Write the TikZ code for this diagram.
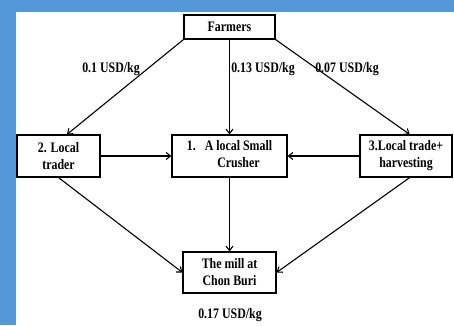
\documentclass[tikz,border=0pt]{standalone}
\usepackage{fontspec}
\setmainfont{Liberation Serif}[FakeStretch=0.82]
\usetikzlibrary{arrows.meta,calc}
\definecolor{bgblue}{RGB}{84,152,218}
\tikzset{
  box/.style={draw=black,line width=1.1pt,fill=white,inner sep=0pt,align=center,
    font=\fontsize{14.5}{17}\selectfont\bfseries},
  lbl/.style={inner sep=0pt,font=\fontsize{14.5}{17}\selectfont\bfseries},
  conn/.style={draw=black,line width=1.1pt,-{Straight Barb[length=4.5pt,width=7pt,line width=1.1pt]}}
}
\begin{document}
\begin{tikzpicture}[x=1pt,y=-1pt]
\useasboundingbox (0,0) rectangle (454,325);
\fill[bgblue] (0,0) rectangle (454,325);
\fill[white] (16,12) rectangle (454,325);
\node[box,minimum width=91pt,minimum height=24pt] (farmers) at (229.5,27) {Farmers};
\node[box,minimum width=83pt,minimum height=42pt] (trader) at (58.5,156) {2. Local\\trader};
\node[box,minimum width=115pt,minimum height=42pt] (crusher) at (229.5,156)
  {\begin{tabular}{@{}l@{\hspace{9pt}}c@{}}1.&A local Small\\&Crusher\end{tabular}};
\node[box,minimum width=92pt,minimum height=42pt] (harv) at (406,156) {3.Local trade+\\harvesting};
\node[box,minimum width=93pt,minimum height=41pt] (mill) at (229.5,272.5) {The mill at\\Chon Buri};
\node[lbl] (l1) at (111,69) {0.1 USD/kg};
\node[lbl] (l2) at (263,69) {0.13 USD/kg};
\node[lbl] (l3) at (347,69) {0.07 USD/kg};
\node[lbl] (l4) at (230,315) {0.17 USD/kg};
\coordinate (tradertop) at ($(trader.north west)!0.6!(trader.north east)$);
\coordinate (harvtop) at ($(harv.north west)!0.54!(harv.north east)$);
\coordinate (harvbot) at ($(harv.south west)!0.54!(harv.south east)$);
\draw[conn] (farmers.south west) -- (tradertop);
\draw[conn] (farmers.south) -- (crusher.north);
\draw[conn] (farmers.south east) -- (harvtop);
\draw[conn] (trader.east) -- (crusher.west);
\draw[conn] (harv.west) -- (crusher.east);
\draw[conn] (trader.south) -- (mill.west);
\draw[conn] (crusher.south) -- (mill.north);
\draw[conn] (harvbot) -- (mill.east);
\end{tikzpicture}
\end{document}
